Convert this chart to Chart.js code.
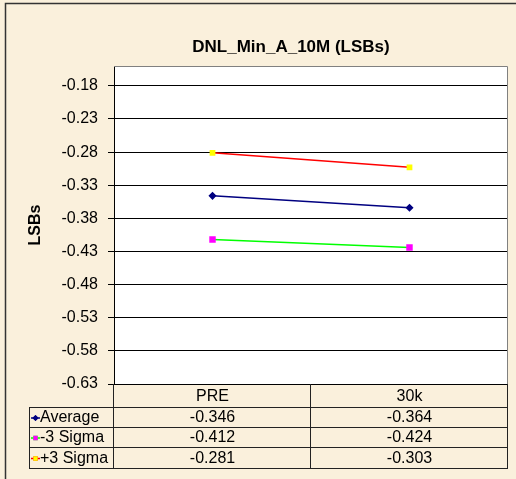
<!DOCTYPE html>
<html>
<head>
<meta charset="utf-8">
<title>DNL_Min_A_10M (LSBs)</title>
<script src="https://cdn.jsdelivr.net/npm/chart.js@4.4.1/dist/chart.umd.min.js"></script>
<style>
  html, body { margin: 0; padding: 0; background: #faf0dc; }
  #wrap { width: 516px; height: 479px; }
</style>
</head>
<body>
<div id="wrap"><canvas id="dnlChart" width="516" height="479"></canvas></div>
<script>
// chart values
const chartTitle = 'DNL_Min_A_10M (LSBs)';
const yTitle = 'LSBs';
const categories = ['PRE', '30k'];
const average = [-0.346, -0.364];
const minus3Sigma = [-0.412, -0.424];
const plus3Sigma = [-0.281, -0.303];
const yTicks = [-0.63, -0.58, -0.53, -0.48, -0.43, -0.38, -0.33, -0.28, -0.23, -0.18];

const FONT = 'Arial, "Liberation Sans", sans-serif';
const BG = '#faf0dc';

// background, outer frame and white plot area
const framePlugin = {
    id: 'frame',
    beforeDraw(chart) {
        const ctx = chart.ctx;
        const a = chart.chartArea;
        ctx.save();
        ctx.fillStyle = BG;
        ctx.fillRect(0, 0, chart.width, chart.height);
        ctx.strokeStyle = '#333';
        ctx.lineWidth = 1.5;
        ctx.beginPath();
        ctx.moveTo(chart.width, 3.5);
        ctx.lineTo(5.5, 3.5);
        ctx.lineTo(5.5, chart.height);
        ctx.stroke();
        ctx.fillStyle = '#fff';
        ctx.fillRect(a.left, a.top, a.right - a.left, a.bottom - a.top);
        ctx.restore();
    },
    afterDraw(chart) {
        const ctx = chart.ctx;
        const a = chart.chartArea;
        ctx.save();
        // gray top / right border of plot
        ctx.strokeStyle = '#808080';
        ctx.lineWidth = 1;
        ctx.beginPath();
        ctx.moveTo(a.left, a.top + 0.5);
        ctx.lineTo(a.right - 0.5, a.top + 0.5);
        ctx.lineTo(a.right - 0.5, a.bottom);
        ctx.stroke();

        // title
        ctx.fillStyle = '#000';
        ctx.font = 'bold 17px ' + FONT;
        ctx.textAlign = 'center';
        ctx.textBaseline = 'middle';
        ctx.fillText(chartTitle, 291, 47);

        drawDataTable(chart);
        ctx.restore();
    }
};

// data table under the plot (Excel style)
function drawDataTable(chart) {
    const ctx = chart.ctx;
    const a = chart.chartArea;
    const xs = chart.scales.x;
    const half = (xs.getPixelForValue(1) - xs.getPixelForValue(0)) / 2;
    const keyLeft = 29;
    const rows = [a.bottom, a.bottom + 23, a.bottom + 43, a.bottom + 63, a.bottom + 84];

    ctx.strokeStyle = '#222';
    ctx.lineWidth = 1;
    ctx.beginPath();
    // horizontal lines
    for (let r = 1; r < rows.length; r++) {
        ctx.moveTo(keyLeft, Math.round(rows[r]) + 0.5);
        ctx.lineTo(a.right, Math.round(rows[r]) + 0.5);
    }
    // vertical lines
    ctx.moveTo(keyLeft + 0.5, rows[1]);
    ctx.lineTo(keyLeft + 0.5, rows[4] + 0.5);
    const xLines = [a.left];
    categories.forEach((c, i) => xLines.push(xs.getPixelForValue(i) + half));
    xLines.forEach((x) => {
        const px = Math.round(x) - 0.5;
        ctx.moveTo(px, rows[0]);
        ctx.lineTo(px, rows[4] + 0.5);
    });
    ctx.stroke();

    ctx.fillStyle = '#000';
    ctx.font = '16px ' + FONT;
    ctx.textBaseline = 'middle';
    ctx.textAlign = 'center';
    categories.forEach((c, i) => {
        ctx.fillText(c, xs.getPixelForValue(i), (rows[0] + rows[1]) / 2 + 1);
    });

    chart.data.datasets.forEach((ds, r) => {
        const yMid = (rows[r + 1] + rows[r + 2]) / 2 + 1;
        // legend key
        ctx.strokeStyle = ds.borderColor;
        ctx.lineWidth = 1.5;
        ctx.beginPath();
        ctx.moveTo(keyLeft + 2, yMid);
        ctx.lineTo(keyLeft + 11, yMid);
        ctx.stroke();
        Chart.helpers.drawPoint(ctx, {
            pointStyle: ds.pointStyle,
            radius: 2,
            borderWidth: 1
        }, keyLeft + 6.5, yMid);
        ctx.fillStyle = ds.pointBackgroundColor;
        ctx.strokeStyle = ds.pointBorderColor;
        Chart.helpers.drawPoint(ctx, {
            pointStyle: ds.pointStyle,
            radius: 2,
            borderWidth: 1
        }, keyLeft + 6.5, yMid);
        ctx.fillStyle = '#000';
        ctx.textAlign = 'left';
        ctx.fillText(ds.label, keyLeft + 11, yMid);
        ctx.textAlign = 'center';
        ds.data.forEach((v, i) => {
            ctx.fillText(v.toFixed(3), xs.getPixelForValue(i), yMid);
        });
    });
}

const ctx = document.getElementById('dnlChart').getContext('2d');
const chartData = {
    labels: categories,
    datasets: [
        {
            label: 'Average',
            data: average,
            borderColor: '#000080',
            borderWidth: 1.5,
            pointStyle: 'rectRot',
            pointRadius: 3,
            pointBackgroundColor: '#000080',
            pointBorderColor: '#000080',
        },
        {
            label: '-3 Sigma',
            data: minus3Sigma,
            borderColor: '#00ff00',
            borderWidth: 1.5,
            pointStyle: 'rect',
            pointRadius: 3.5,
            pointBackgroundColor: '#ff00ff',
            pointBorderColor: '#ff00ff',
        },
        {
            label: '+3 Sigma',
            data: plus3Sigma,
            borderColor: '#ff0000',
            borderWidth: 1.5,
            pointStyle: 'rect',
            pointRadius: 3,
            pointBackgroundColor: '#ffff00',
            pointBorderColor: '#ffff00',
        },
    ],
};

const chartConfig = {
    type: 'line',
    data: chartData,
    plugins: [framePlugin],
    options: {
        responsive: false,
        animation: false,
        layout: { padding: { top: 66, right: 8, bottom: 95, left: 0 } },
        plugins: {
            legend: { display: false },
            title: { display: false },
            tooltip: { enabled: false },
        },
        scales: {
            x: {
                type: 'category',
                display: false,
                offset: true,
            },
            y: {
                min: -0.63,
                max: -0.15,
                afterBuildTicks: (axis) => {
                    axis.ticks = yTicks.map(v => ({ value: v }));
                },
                afterFit: (axis) => {
                    axis.width = 114;
                },
                ticks: {
                    color: '#000',
                    padding: 10,
                    font: { family: FONT, size: 16 },
                    callback: (v) => v.toFixed(2),
                },
                grid: { color: '#000', tickLength: 6, lineWidth: 1 },
                border: { color: '#000', width: 1 },
                title: {
                    display: true,
                    text: yTitle,
                    color: '#000',
                    font: { family: FONT, size: 16, weight: 'bold' },
                    padding: { top: 26, bottom: 0 },
                },
            },
        },
    },
};

const dnlChart = new Chart(ctx, chartConfig);
</script>
</body>
</html>
